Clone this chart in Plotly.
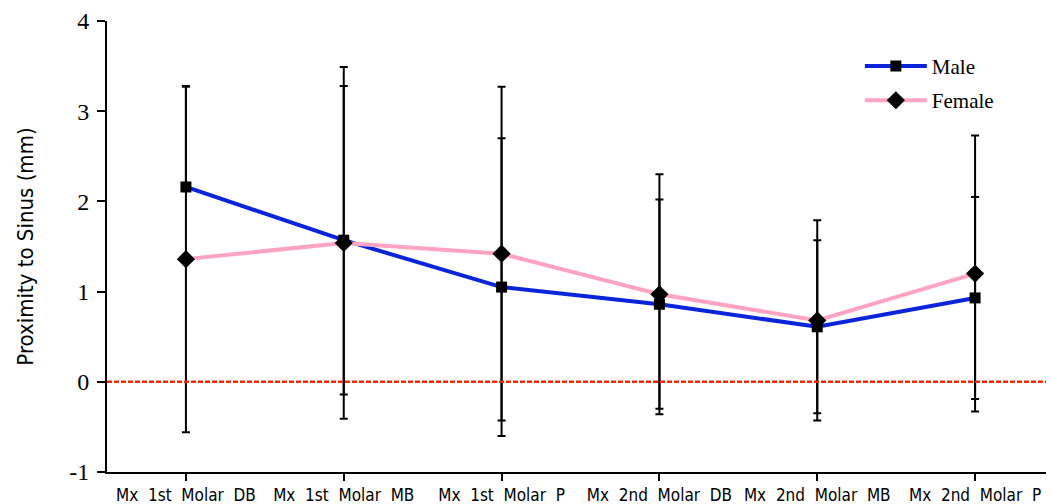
import plotly.graph_objects as go

categories = ["Mx  1st  Molar  DB", "Mx  1st  Molar  MB", "Mx  1st  Molar  P",
              "Mx  2nd  Molar  DB", "Mx  2nd  Molar  MB", "Mx  2nd  Molar  P"]
male_mean = [2.16, 1.57, 1.05, 0.86, 0.61, 0.93]
male_sd_plus = [1.11, 1.71, 1.65, 1.16, 0.96, 1.12]
male_sd_minus = [0.0, 1.71, 1.65, 1.16, 0.96, 1.12]
female_mean = [1.36, 1.54, 1.42, 0.97, 0.68, 1.20]
female_sd = [1.92, 1.95, 1.85, 1.33, 1.11, 1.53]
y_ticks = [-1, 0, 1, 2, 3, 4]
y_ticktext = ["-1", "0", "1", "2", "3", "4"]

xs = list(range(len(categories)))

fig = go.Figure()
fig.add_trace(go.Scatter(
    x=xs, y=male_mean, name="Male", mode="lines+markers", legendgroup="m",
    line=dict(color="#0a24dc", width=4),
    marker=dict(symbol="square", size=11, color="black"),
    error_y=dict(type="data", symmetric=False, array=male_sd_plus, arrayminus=male_sd_minus,
                 color="black", thickness=2, width=4),
))
fig.add_trace(go.Scatter(
    x=xs, y=female_mean, name="Female", mode="lines+markers", legendgroup="f",
    line=dict(color="#ffa3c3", width=4),
    marker=dict(symbol="diamond", size=14, color="black"),
    error_y=dict(type="data", array=female_sd, color="black", thickness=2, width=4),
))

fig.add_shape(type="line", xref="paper", yref="y", x0=0, x1=1, y0=0, y1=0,
              line=dict(color="#ee2a0a", width=2.5, dash="5px,2px"))

fig.update_layout(
    width=1046, height=496,
    margin=dict(l=99, r=0, t=13, b=32),
    paper_bgcolor="white", plot_bgcolor="white",
    showlegend=True,
    legend=dict(x=0.795, y=0.945, xanchor="left", yanchor="top",
                font=dict(family="Liberation Serif, Times New Roman, serif", size=21, color="black"),
                bgcolor="rgba(0,0,0,0)", tracegroupgap=4, itemwidth=62),
)
fig.update_xaxes(
    range=[-0.5, 5.5], tickmode="array", tickvals=xs, ticktext=categories,
    showline=True, linecolor="black", linewidth=2, ticks="outside", ticklen=7,
    tickwidth=1.5, tickcolor="black", showgrid=False, zeroline=False,
    tickfont=dict(family="Liberation Sans Narrow, DejaVu Sans Condensed, Arial Narrow, sans-serif",
                  size=17, color="black"),
)
fig.update_yaxes(
    range=[-1, 4], tickmode="array", tickvals=y_ticks, ticktext=y_ticktext,
    showline=True, linecolor="black", linewidth=2, ticks="outside", ticklen=8,
    tickwidth=1.5, tickcolor="black", showgrid=False, zeroline=False, ticklabelstandoff=3,
    tickfont=dict(family="Liberation Serif, Times New Roman, serif", size=24, color="black"),
    title=dict(text="Proximity to Sinus (mm)", standoff=30,
               font=dict(family="Liberation Sans Narrow, DejaVu Sans Condensed, Arial Narrow, sans-serif",
                         size=22, color="black")),
)

fig.write_html("out.html")
